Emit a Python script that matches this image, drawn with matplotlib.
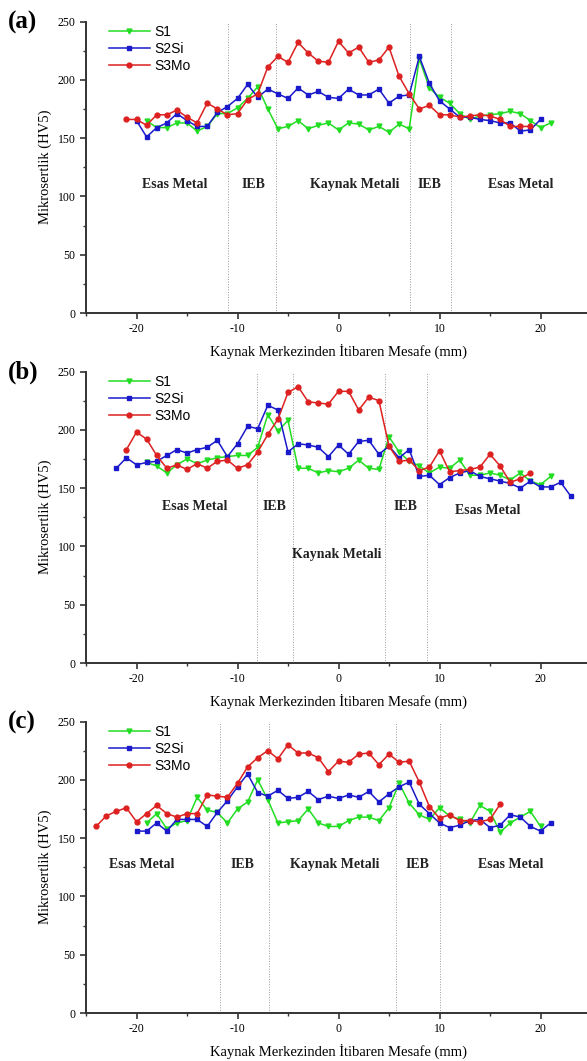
import matplotlib
matplotlib.use('Agg')
import matplotlib.pyplot as plt
from matplotlib.ticker import MultipleLocator

plt.rcParams['axes.unicode_minus'] = False

# ---- panel (a) ----
a_s1_x = list(range(-19, 22))
a_s1 = [165, 159, 159, 163, 163, 156, 160, 171, 171, 176, 184, 194, 175, 158, 160, 165,
        158, 161, 163, 157, 163, 162, 157, 160, 155, 162, 158, 218, 193, 185, 180, 171,
        166, 169, 170, 171, 173, 171, 165, 159, 163]
a_s2_x = list(range(-20, 21))
a_s2 = [165, 151, 159, 163, 171, 165, 160, 160, 172, 177, 184, 196, 185, 192, 188, 184,
        193, 187, 190, 185, 184, 192, 187, 187, 192, 180, 186, 187, 220, 197, 182, 175,
        168, 168, 166, 165, 163, 163, 156, 157, 166]
a_s3_x = list(range(-21, 20))
a_s3 = [166, 166, 161, 170, 170, 174, 168, 163, 180, 175, 170, 171, 183, 188, 211, 220,
        215, 232, 223, 216, 215, 233, 223, 228, 215, 217, 228, 203, 188, 175, 178, 170,
        170, 168, 169, 170, 169, 166, 160, 160, 160]
a_lines = [-10.9, -6.2, 7.1, 11.1]
a_texts = [(-16.2, 110, 'Esas Metal'), (-8.4, 110, 'IEB'), (1.6, 110, 'Kaynak Metali'),
           (9.0, 110, 'IEB'), (18.0, 110, 'Esas Metal')]

# ---- panel (b) ----
b_s1_x = list(range(-19, 22))
b_s1 = [172, 169, 163, 170, 175, 171, 174, 176, 177, 178, 178, 185, 213, 199, 208, 167,
        167, 163, 165, 164, 167, 174, 167, 166, 194, 181, 173, 169, 163, 168, 167, 174,
        161, 161, 163, 161, 157, 163, 156, 153, 160]
b_s2_x = list(range(-22, 24))
b_s2 = [167, 176, 170, 172, 173, 178, 183, 180, 183, 185, 191, 177, 188, 203, 201, 221,
        217, 181, 188, 187, 185, 177, 187, 179, 190, 191, 179, 186, 176, 183, 160, 161,
        153, 159, 163, 165, 160, 158, 156, 154, 150, 156, 151, 151, 155, 143]
b_s3_x = list(range(-21, 20))
b_s3 = [183, 198, 192, 178, 167, 170, 166, 171, 167, 173, 174, 167, 170, 181, 196, 209,
        232, 237, 224, 223, 222, 233, 233, 217, 228, 225, 186, 173, 174, 165, 168, 182,
        164, 165, 166, 168, 179, 169, 155, 158, 163]
b_lines = [-8.1, -4.5, 4.6, 8.8]
b_texts = [(-14.2, 134, 'Esas Metal'), (-6.3, 134, 'IEB'), (-0.2, 93, 'Kaynak Metali'),
           (6.6, 134, 'IEB'), (14.8, 131, 'Esas Metal')]

# ---- panel (c) ----
c_s1_x = list(range(-19, 21))
c_s1 = [163, 171, 158, 163, 165, 185, 174, 172, 163, 175, 181, 200, 183, 163, 164, 165,
        175, 163, 160, 160, 165, 168, 168, 165, 176, 197, 180, 170, 166, 176, 169, 166,
        163, 178, 173, 155, 163, 168, 173, 160]
c_s2_x = list(range(-20, 22))
c_s2 = [156, 156, 163, 156, 166, 166, 166, 160, 172, 182, 194, 205, 189, 186, 191, 184,
        185, 190, 183, 186, 184, 187, 185, 190, 181, 188, 194, 198, 179, 171, 163, 159,
        161, 165, 166, 159, 161, 170, 168, 160, 156, 163]
c_s3_x = list(range(-24, 17))
c_s3 = [160, 169, 173, 176, 164, 171, 178, 171, 168, 171, 171, 187, 186, 185, 197, 211,
        219, 225, 218, 230, 223, 223, 219, 207, 216, 215, 222, 223, 213, 222, 215, 216,
        198, 177, 167, 170, 165, 165, 164, 166, 179]
c_lines = [-11.7, -6.9, 5.7, 10.0]
c_texts = [(-19.5, 127, 'Esas Metal'), (-9.5, 127, 'IEB'), (-0.4, 127, 'Kaynak Metali'),
           (7.8, 127, 'IEB'), (17.0, 127, 'Esas Metal')]

panels = [
    ('(a)', a_s1_x, a_s1, a_s2_x, a_s2, a_s3_x, a_s3, a_lines, a_texts),
    ('(b)', b_s1_x, b_s1, b_s2_x, b_s2, b_s3_x, b_s3, b_lines, b_texts),
    ('(c)', c_s1_x, c_s1, c_s2_x, c_s2, c_s3_x, c_s3, c_lines, c_texts),
]

W, H = 587, 1061
fig = plt.figure(figsize=(W / 100, H / 100), dpi=100)
serif = 'Liberation Serif'
bottoms = [313, 663, 1013]

for (lab, x1, y1, x2, y2, x3, y3, vl, txts), bot in zip(panels, bottoms):
    ax = fig.add_axes([86 / W, 1 - bot / H, 505 / W, 291.5 / H])
    for v in vl:
        ax.axvline(v, color='#999999', lw=0.7, ls=':')
    ax.plot(x1, y1, color='#22dd22', marker='v', ms=3.5, lw=1.1, label='S1')
    ax.plot(x2, y2, color='#1a1acc', marker='s', ms=3, lw=1.1, label='S2Si')
    ax.plot(x3, y3, color='#dd2020', marker='o', ms=3.5, lw=1.1, label='S3Mo')
    for tx, ty, s in txts:
        ax.text(tx, ty, s, ha='center', va='center', fontsize=10,
                fontweight='bold', family=serif, color='#222222')
    ax.set_xlim(-25, 25)
    ax.set_ylim(0, 250)
    ax.xaxis.set_major_locator(MultipleLocator(10))
    ax.xaxis.set_minor_locator(MultipleLocator(5))
    ax.yaxis.set_major_locator(MultipleLocator(50))
    ax.yaxis.set_minor_locator(MultipleLocator(25))
    ax.tick_params(which='major', direction='out', length=4, width=1.2,
                   labelsize=8.5, color='#333333')
    ax.tick_params(which='minor', direction='out', length=2.5, width=1.0, color='#333333')
    for t in ax.get_xticklabels() + ax.get_yticklabels():
        t.set_family(serif)
    for s in ['top', 'right']:
        ax.spines[s].set_visible(False)
    for s in ['left', 'bottom']:
        ax.spines[s].set_linewidth(1.4)
        ax.spines[s].set_color('#333333')
    ax.set_xlabel('Kaynak Merkezinden İtibaren Mesafe (mm)', family=serif,
                  fontsize=10.5, labelpad=6)
    ax.set_ylabel('Mikrosertlik (HV5)', family=serif, fontsize=10.5, labelpad=4)
    ax.legend(loc='upper left', bbox_to_anchor=(0.02, 1.03), frameon=False,
              handlelength=3, handletextpad=0.3, labelspacing=0.2,
              numpoints=1, prop={'family': 'Liberation Sans', 'size': 10})
    fig.text(8 / W, 1 - (bot - 291) / H, lab, family=serif, fontweight='bold',
             fontsize=18, va='center', ha='left')

fig.savefig('out.png', dpi=100)
